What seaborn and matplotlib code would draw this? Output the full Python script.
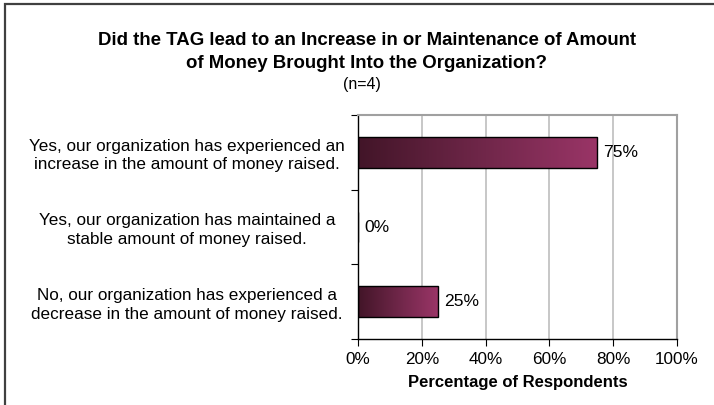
import numpy as np
import pandas as pd
import matplotlib
matplotlib.use("Agg")
import matplotlib.pyplot as plt
from matplotlib.colors import LinearSegmentedColormap
from matplotlib.patches import Rectangle
from matplotlib.ticker import MultipleLocator, PercentFormatter
import seaborn as sns

# Survey responses
categories = [
    "Yes, our organization has experienced an\nincrease in the amount of money raised.",
    "Yes, our organization has maintained a\nstable amount of money raised.",
    "No, our organization has experienced a\ndecrease in the amount of money raised.",
]
percentages = [75, 0, 25]
value_labels = ["75%", "0%", "25%"]

title = ("Did the TAG lead to an Increase in or Maintenance of Amount\n"
         "of Money Brought Into the Organization?")
subtitle = "(n=4)"
x_label = "Percentage of Respondents"

sns.set_style("white")
plt.rcParams["font.family"] = ["Liberation Sans", "DejaVu Sans"]
plt.rcParams["text.color"] = "black"
plt.rcParams["axes.labelcolor"] = "black"
plt.rcParams["xtick.color"] = "black"
plt.rcParams["ytick.color"] = "black"

W, H = 714, 405
fig = plt.figure(figsize=(W / 100, H / 100), dpi=100)
ax = fig.add_axes([358 / W, 1 - 339 / H, (677 - 358) / W, (339 - 115) / H])

df = pd.DataFrame({"category": categories, "pct": percentages})
sns.barplot(data=df, x="pct", y="category", orient="h", ax=ax,
            color="#7a2850", width=0.41, edgecolor="black", linewidth=1.0,
            zorder=3)

# Horizontal gradient fill inside each bar
cmap = LinearSegmentedColormap.from_list("plum", ["#421528", "#6e2648", "#9a3567"])
grad = np.linspace(0, 1, 256).reshape(1, -1)
for patch in ax.patches:
    x0, y0 = patch.get_x(), patch.get_y()
    w, h = patch.get_width(), patch.get_height()
    if w <= 0:
        continue
    patch.set_facecolor("none")
    img = ax.imshow(grad, cmap=cmap, aspect="auto", interpolation="bilinear",
                    extent=(x0, x0 + w, y0 + h, y0), zorder=2.5)
    img.set_clip_path(patch)

ax.set_xlim(0, 100)
ax.set_ylim(2.5, -0.5)
ax.xaxis.set_major_locator(MultipleLocator(20))
ax.xaxis.set_major_formatter(PercentFormatter(decimals=0))
ax.set_yticks([-0.5, 0.5, 1.5, 2.5], minor=False)
ax.set_yticklabels([])
ax.set_yticks([0, 1, 2], minor=True)
ax.set_yticklabels(categories, minor=True, ha="center", fontsize=12.3,
                   multialignment="center", linespacing=1.3, color="black")
# label centres sit about 171 px left of the axis
ax.tick_params(axis="y", which="minor", length=0, pad=171 * 0.72)
ax.tick_params(axis="y", which="major", length=5, width=0.8, color="black",
               direction="out", left=True)
ax.tick_params(axis="x", length=5, width=0.8, color="black", direction="out",
               bottom=True, labelsize=12.3, pad=4, labelcolor="black")

ax.grid(axis="x", color="#bdbdbd", linewidth=1.2, zorder=0)
ax.set_ylabel("")
ax.set_xlabel(x_label, fontsize=12, fontweight="bold", labelpad=6,
              color="black")

for s in ["left", "bottom"]:
    ax.spines[s].set_color("black")
    ax.spines[s].set_linewidth(1.0)
for s in ["top", "right"]:
    ax.spines[s].set_color("#a0a0a0")
    ax.spines[s].set_linewidth(1.5)

for i, (v, lab) in enumerate(zip(percentages, value_labels)):
    ax.annotate(lab, xy=(v, i), xytext=(4.5, 0), textcoords="offset points",
                ha="left", va="center", fontsize=12.6, color="black")

fig.text(367 / W, 1 - 52 / H, title, ha="center", va="center",
         fontsize=13.4, fontweight="bold", linespacing=1.45, color="black")
fig.text(362 / W, 1 - 84 / H, subtitle, ha="center", va="center",
         fontsize=11.5, color="black")

# Outer chart frame (top and left edges visible)
fig.patches.append(Rectangle((5 / W, -0.1), 1.2, 1 - 4 / H + 0.1,
                             transform=fig.transFigure, fill=False,
                             edgecolor="#404040", linewidth=1.6))

fig.savefig("out.png", dpi=100)
